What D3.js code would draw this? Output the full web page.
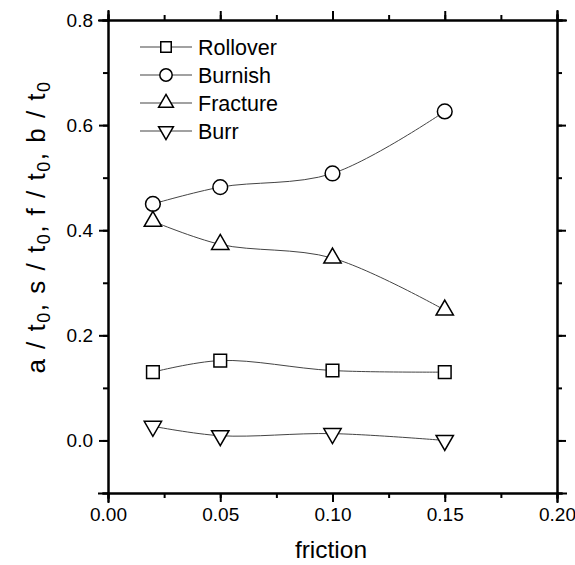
<!DOCTYPE html>
<html>
<head>
<meta charset="utf-8">
<style>
    body { margin: 0; background: #fff; }
    text { font-family: 'Liberation Sans', Arial, sans-serif; fill: #000; }
    .axis path, .axis line { stroke: #000; stroke-width: 2px; }
    .axis text { font-size: 19px; }
</style>
</head>
<body>
<svg width="575" height="565"></svg>
<script src="https://cdn.jsdelivr.net/npm/d3@7/dist/d3.min.js"></script>
<script>
    // data
    var friction = [0.02, 0.05, 0.10, 0.15];
    var rollover = [0.130, 0.152, 0.133, 0.130];
    var burnish  = [0.450, 0.482, 0.508, 0.626];
    var fracture = [0.417, 0.373, 0.347, 0.248];
    var burr     = [0.027, 0.009, 0.013, 0.000];
    var names    = ["Rollover", "Burnish", "Fracture", "Burr"];
    var xTicks = [0, 0.05, 0.10, 0.15, 0.20];
    var yTicks = [0, 0.2, 0.4, 0.6, 0.8];

    var series = [rollover, burnish, fracture, burr];
    var symbols = [d3.symbolSquare, d3.symbolCircle, d3.symbolTriangle, d3.symbolTriangle];

    var svg = d3.select("svg"),
        margin = { top: 20, right: 18, bottom: 72, left: 108 },
        width = +svg.attr("width") - margin.left - margin.right,
        height = +svg.attr("height") - margin.top - margin.bottom,
        g = svg.append("g").attr("transform", "translate(" + margin.left + "," + margin.top + ")");

    var x = d3.scaleLinear().domain([0, 0.2]).range([0, width]);
    var y = d3.scaleLinear().domain([-0.1, 0.8]).range([height, 0]);

    var xMinor = d3.range(0, 0.2001, 0.025);
    var yMinor = d3.range(-0.1, 0.8001, 0.1);

    // minor ticks first, then major with labels
    g.append("g").attr("class", "axis").attr("transform", "translate(0," + height + ")")
        .call(d3.axisBottom(x).tickValues(xMinor).tickSize(5).tickFormat(""));
    g.append("g").attr("class", "axis").attr("transform", "translate(0," + height + ")")
        .call(d3.axisBottom(x).tickValues(xTicks).tickSize(9).tickPadding(6).tickFormat(d3.format(".2f")));
    g.append("g").attr("class", "axis")
        .call(d3.axisTop(x).tickValues(xMinor).tickSize(5).tickFormat(""));
    g.append("g").attr("class", "axis")
        .call(d3.axisTop(x).tickValues(xTicks).tickSize(9).tickFormat(""));

    g.append("g").attr("class", "axis")
        .call(d3.axisLeft(y).tickValues(yMinor).tickSize(5).tickFormat(""));
    g.append("g").attr("class", "axis")
        .call(d3.axisLeft(y).tickValues(yTicks).tickSize(9).tickPadding(6).tickFormat(d3.format(".1f")));
    g.append("g").attr("class", "axis").attr("transform", "translate(" + width + ",0)")
        .call(d3.axisRight(y).tickValues(yMinor).tickSize(5).tickFormat(""));
    g.append("g").attr("class", "axis").attr("transform", "translate(" + width + ",0)")
        .call(d3.axisRight(y).tickValues(yTicks).tickSize(9).tickFormat(""));

    g.selectAll(".axis .domain").attr("stroke-linecap", "square");

    var line = d3.line()
        .x(function (d, i) { return x(friction[i]); })
        .y(function (d) { return y(d); })
        .curve(d3.curveCatmullRom.alpha(0.5));

    series.forEach(function (s, k) {
        g.append("path")
            .attr("d", line(s))
            .attr("fill", "none")
            .attr("stroke", "#444")
            .attr("stroke-width", 1);

        g.selectAll(".m" + k)
            .data(s)
            .enter().append("path")
            .attr("class", "m" + k)
            .attr("d", d3.symbol().type(symbols[k]).size(k === 0 ? 160 : k === 1 ? 170 : 130))
            .attr("transform", function (d, i) {
                return "translate(" + x(friction[i]) + "," + y(d) + ")" + (k === 3 ? " rotate(180)" : "");
            })
            .attr("fill", "#fff")
            .attr("stroke", "#000")
            .attr("stroke-width", 1.5);
    });

    // legend
    var legend = svg.append("g").selectAll("g")
        .data(names)
        .enter().append("g")
        .attr("transform", function (d, i) { return "translate(140," + (47 + i * 28) + ")"; });

    legend.append("line")
        .attr("x1", 0).attr("x2", 52)
        .attr("stroke", "#444").attr("stroke-width", 1.2);

    legend.append("path")
        .attr("d", function (d, i) {
            return d3.symbol().type(symbols[i]).size(i === 0 ? 110 : i === 1 ? 120 : 95)();
        })
        .attr("transform", function (d, i) { return "translate(26,0)" + (i === 3 ? " rotate(180)" : ""); })
        .attr("fill", "#fff").attr("stroke", "#000").attr("stroke-width", 1.5);

    legend.append("text")
        .attr("x", 58).attr("dy", "0.36em")
        .attr("font-size", 21.5)
        .text(function (d) { return d; });

    // axis titles
    svg.append("text")
        .attr("x", 331).attr("y", 558)
        .attr("text-anchor", "middle")
        .attr("font-size", 24.5)
        .text("friction");

    var yl = svg.append("text")
        .attr("transform", "translate(45,227) rotate(-90)")
        .attr("text-anchor", "middle")
        .attr("font-size", 26)
        .attr("letter-spacing", 1.5);
    ["a", "s", "f", "b"].forEach(function (c, i) {
        yl.append("tspan").text(c + " / t");
        yl.append("tspan").attr("baseline-shift", "-25%").attr("font-size", 18).text("0");
        if (i < 3) yl.append("tspan").text(", ");
    });
</script>
</body>
</html>
